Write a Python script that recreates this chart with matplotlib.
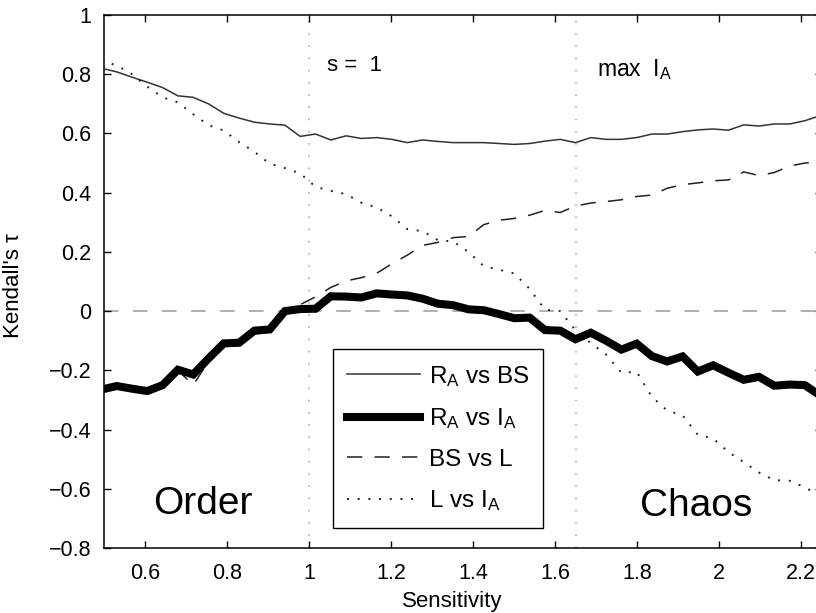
import numpy as np
import matplotlib
matplotlib.use("Agg")
import matplotlib.pyplot as plt
from matplotlib.ticker import FuncFormatter, MultipleLocator

plt.rcParams['font.family'] = ['Liberation Sans', 'DejaVu Sans']
plt.rcParams['mathtext.default'] = 'regular'

# Sensitivity sampling grid
sensitivity = np.round(0.4937 + 0.0373 * np.arange(48), 4)

ra_vs_bs = [0.820, 0.808, 0.790, 0.773, 0.755, 0.727, 0.722, 0.700, 0.668, 0.652,
            0.638, 0.632, 0.628, 0.590, 0.598, 0.578, 0.592, 0.583, 0.586, 0.580,
            0.569, 0.578, 0.573, 0.569, 0.569, 0.569, 0.566, 0.563, 0.566, 0.574,
            0.580, 0.569, 0.586, 0.580, 0.580, 0.586, 0.598, 0.598, 0.606, 0.612,
            0.615, 0.611, 0.629, 0.625, 0.632, 0.632, 0.643, 0.660]

ra_vs_ia = [-0.265, -0.253, -0.262, -0.270, -0.250, -0.198, -0.214, -0.160, -0.109, -0.107,
            -0.066, -0.062, 0.000, 0.007, 0.008, 0.050, 0.049, 0.046, 0.060, 0.056,
            0.053, 0.042, 0.025, 0.020, 0.006, 0.003, -0.010, -0.024, -0.022, -0.064,
            -0.066, -0.095, -0.073, -0.100, -0.130, -0.110, -0.152, -0.170, -0.153, -0.204,
            -0.183, -0.208, -0.232, -0.222, -0.252, -0.248, -0.250, -0.285]

bs_vs_l = [-0.265, -0.255, -0.262, -0.270, -0.252, -0.200, -0.250, -0.170, -0.110, -0.105,
           -0.080, -0.066, -0.005, 0.022, 0.048, 0.080, 0.102, 0.113, 0.128, 0.160,
           0.189, 0.222, 0.232, 0.248, 0.252, 0.292, 0.307, 0.313, 0.324, 0.340,
           0.333, 0.355, 0.365, 0.370, 0.376, 0.387, 0.392, 0.415, 0.427, 0.433,
           0.440, 0.443, 0.470, 0.458, 0.468, 0.490, 0.500, 0.505]

l_vs_ia = [0.845, 0.830, 0.800, 0.758, 0.722, 0.705, 0.665, 0.628, 0.610, 0.571,
           0.538, 0.498, 0.483, 0.465, 0.420, 0.406, 0.395, 0.366, 0.350, 0.320,
           0.277, 0.270, 0.240, 0.235, 0.200, 0.152, 0.140, 0.127, 0.075, 0.005,
           0.000, -0.065, -0.108, -0.147, -0.208, -0.205, -0.290, -0.336, -0.352, -0.418,
           -0.430, -0.476, -0.510, -0.545, -0.571, -0.573, -0.595, -0.625]

labels = ['R$_A$ vs BS', 'R$_A$ vs I$_A$', 'BS vs L', 'L vs I$_A$']
s_one = 1.0
s_max_ia = 1.65

fig = plt.figure(figsize=(8.16, 6.13), dpi=100)
ax = fig.add_axes([104/816, 1-548/613, 717.5/816, 533/613])

ax.axhline(0, color='#9a9a9a', lw=1.1, dashes=(9.5, 9.5), zorder=1)
ax.axvline(s_one, color='#a0a0a0', lw=1.1, linestyle=(0, (1, 7)), zorder=1)
ax.axvline(s_max_ia, color='#a0a0a0', lw=1.1, linestyle=(0, (1, 7)), zorder=1)

ax.plot(sensitivity, ra_vs_bs, color='#333333', lw=1.1, label=labels[0], zorder=3)
ax.plot(sensitivity, ra_vs_ia, color='black', lw=5.8, label=labels[1], zorder=4,
        solid_joinstyle='miter')
ax.plot(sensitivity, bs_vs_l, color='#222222', lw=1.1, dashes=(10, 8), label=labels[2], zorder=3)
ax.plot(sensitivity, l_vs_ia, color='#222222', lw=1.4, dashes=(1, 4.5), label=labels[3], zorder=3)

ax.set_xlim(0.5, 2.25)
ax.set_ylim(-0.8, 1.0)
ax.xaxis.set_major_locator(MultipleLocator(0.2))
ax.yaxis.set_major_locator(MultipleLocator(0.2))
fmt = FuncFormatter(lambda v, p: ('%g' % round(v, 2)).replace('-', '\u2212'))
ax.xaxis.set_major_formatter(fmt)
ax.yaxis.set_major_formatter(fmt)
ax.tick_params(direction='in', length=5, width=1, top=True, right=True,
               labelsize=15.5)
ax.tick_params(axis='x', pad=10.5)
ax.tick_params(axis='y', pad=9)
for sp in ax.spines.values():
    sp.set_linewidth(1.1)

ax.set_xlabel('Sensitivity', fontsize=16)
ax.set_ylabel("Kendall's \u03c4", fontsize=16)
ax.xaxis.set_label_coords(0.485, -0.080)
ax.yaxis.set_label_coords(-0.112, 0.493)

ax.text(1.044, 0.81, 's =  1', fontsize=16)
ax.text(1.702, 0.794, 'max  I$_A$', fontsize=16.5)
ax.text(0.62, -0.686, 'Order', fontsize=28)
ax.text(1.807, -0.693, 'Chaos', fontsize=28)

leg = ax.legend(loc='upper left', bbox_to_anchor=(0.319, 0.0375, 0.293, 0.3355),
                mode='expand', fontsize=17.5, frameon=True, fancybox=False,
                edgecolor='black', framealpha=1, handlelength=3.0,
                labelspacing=0.72, borderpad=0.6, handletextpad=0.35,
                borderaxespad=0)
leg.get_frame().set_linewidth(1.0)

fig.savefig('out.png', dpi=100)
